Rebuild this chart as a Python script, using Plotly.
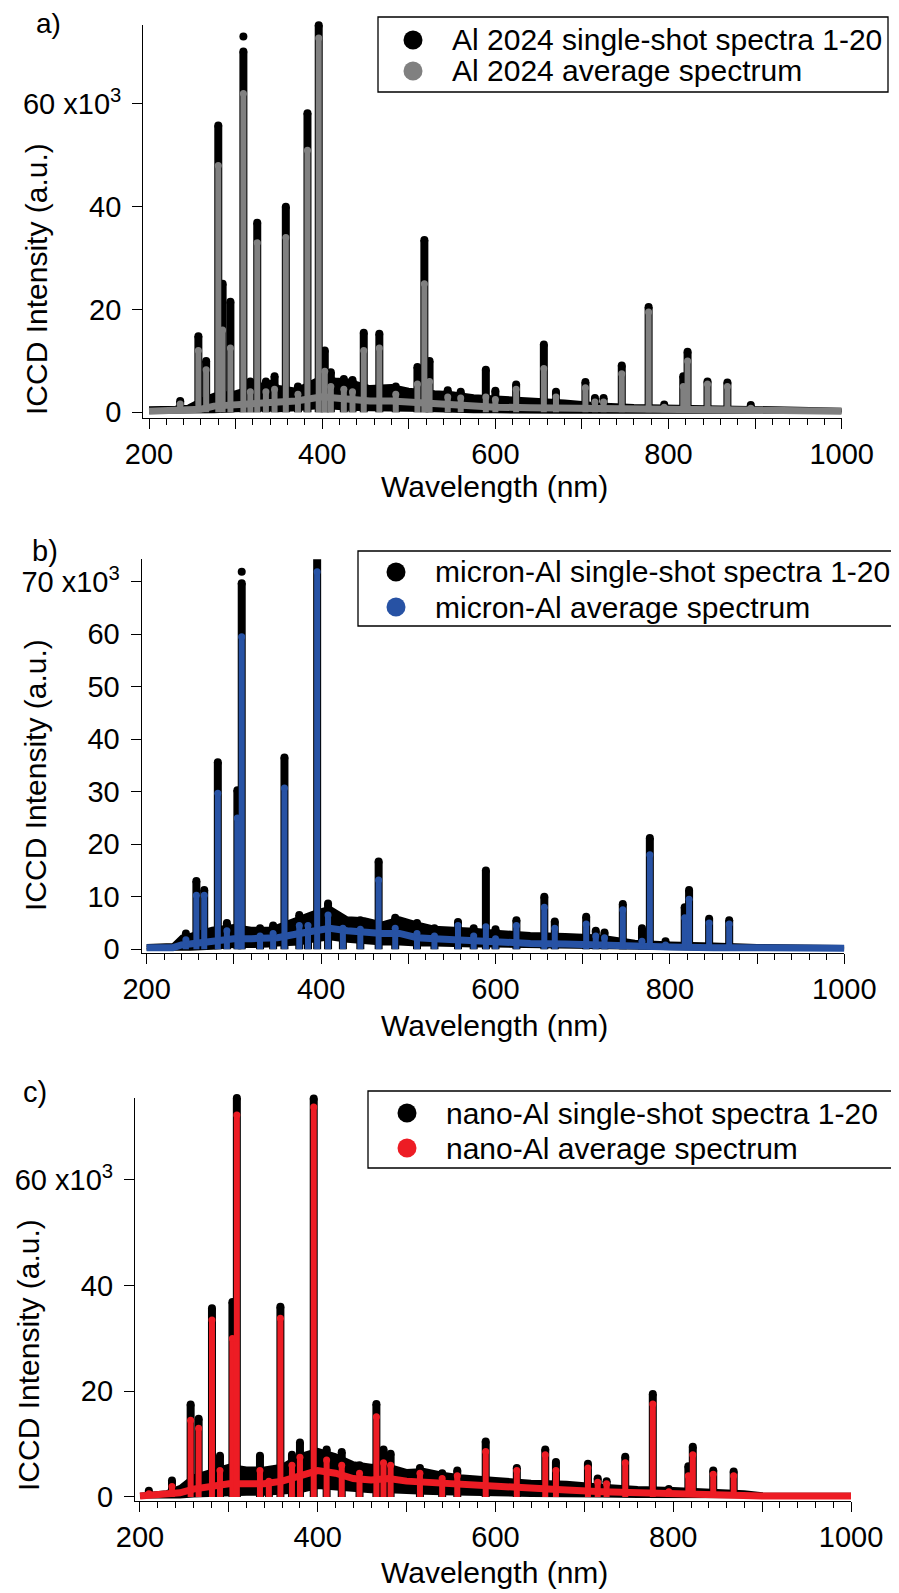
import plotly.graph_objects as go

# The page body keeps an 8 px margin, so the figure starts 8 px in from the window's
# top-left corner; all positions below are given in window pixels and converted.
VIEW_W, VIEW_H = 899, 1593
OFF = 8
W, H = VIEW_W - OFF, VIEW_H - OFF
FONT = "Arial, Liberation Sans, sans-serif"

# ---------------- Panel a: Al 2024 (values in 10^3 counts) ----------------
a_cont_wl = [200, 230, 245, 260, 275, 300, 320, 340, 350, 370, 400, 415, 430, 455, 480, 500, 530, 550,
             575, 600, 640, 680, 720, 760, 800, 850, 900, 950, 1000]
a_cont_max = [0.9, 1.0, 1.2, 2.5, 3.5, 4.0, 5.0, 6.0, 5.0, 4.5, 7.0, 6.5, 6.3, 5.0, 5.2, 4.5, 4.0, 3.8,
              3.2, 3.0, 2.6, 2.2, 1.6, 1.3, 1.2, 1.1, 1.0, 0.8, 0.6]
a_cont_avg = [0.2, 0.3, 0.4, 0.6, 1.2, 1.5, 1.8, 2.2, 2.0, 2.2, 3.0, 2.8, 2.5, 2.2, 2.2, 2.0, 1.5, 1.4,
              1.2, 1.0, 0.9, 0.8, 0.7, 0.6, 0.5, 0.4, 0.3, 0.3, 0.2]
a_cont_min = [0.0, 0.0, 0.0, 0.0, 0.1, 0.3, 0.4, 0.5, 0.3, 0.5, 1.0, 0.8, 0.6, 0.5, 0.5, 0.4, 0.3, 0.2,
              0.1, 0.1, 0.0, 0.0, 0.0, 0.0, 0.0, 0.0, 0.0, 0.0, 0.0]
a_peak_wl = [236, 257, 266, 280, 285, 294, 309, 317, 325, 335, 345, 358, 372, 383, 396, 403, 410, 425,
             435, 448, 466, 485, 510, 518, 524, 545, 560, 589, 600, 624, 656, 670, 704, 715, 725, 746,
             777, 795, 817, 822, 845, 868, 895]
a_peak_max = [2.2, 14.8, 10.0, 55.8, 25.0, 21.5, 70.2, 6.0, 36.9, 6.0, 7.0, 40.0, 5.0, 58.2, 75.3, 12.0,
              7.8, 6.5, 6.3, 15.5, 15.3, 5.0, 8.8, 33.5, 10.0, 4.3, 4.0, 8.3, 4.2, 5.4, 13.2, 4.0, 5.9,
              2.8, 2.8, 9.1, 20.5, 1.5, 7.0, 11.8, 6.0, 5.8, 1.4]
a_peak_avg = [1.6, 12.0, 8.3, 48.0, 16.0, 12.5, 62.0, 4.0, 33.0, 4.0, 4.5, 34.0, 3.5, 51.0, 72.8, 8.0,
              5.0, 4.5, 4.0, 12.0, 12.5, 3.5, 5.5, 25.0, 6.0, 3.0, 2.8, 3.0, 2.5, 4.5, 8.5, 3.0, 4.8,
              2.0, 2.0, 7.5, 19.5, 1.0, 5.0, 10.0, 5.5, 5.0, 0.8]
a_outlier_wl = [309]
a_outlier_val = [73.1]

# ---------------- Panel b: micron-Al ----------------
b_cont_wl = [200, 230, 240, 250, 275, 300, 320, 340, 350, 375, 390, 410, 430, 450, 470, 490, 510, 530,
             550, 575, 600, 640, 680, 720, 760, 800, 850, 900, 1000]
b_cont_max = [0.7, 0.9, 2.5, 2.8, 4.0, 4.5, 4.0, 4.0, 4.5, 6.0, 7.0, 8.0, 6.0, 5.8, 5.0, 6.0, 5.0, 4.2,
              4.0, 3.8, 3.4, 3.0, 2.8, 2.5, 1.5, 1.2, 1.0, 0.7, 0.5]
b_cont_avg = [0.3, 0.3, 0.8, 1.0, 1.5, 2.0, 2.0, 2.0, 2.2, 3.0, 3.5, 4.0, 3.5, 3.2, 3.0, 3.0, 2.2, 2.0,
              1.8, 1.6, 1.2, 1.1, 1.0, 0.7, 0.5, 0.4, 0.3, 0.3, 0.2]
b_cont_min = [0.0, 0.0, 0.0, 0.0, 0.2, 0.5, 0.5, 0.6, 0.8, 1.0, 1.5, 2.0, 1.5, 1.2, 1.0, 1.0, 0.8, 0.8,
              0.7, 0.6, 0.6, 0.5, 0.4, 0.3, 0.1, 0.0, 0.0, 0.0, 0.0]
b_peak_wl = [245, 257, 266, 281.6, 292, 304, 309, 330, 345, 358, 375, 385, 395.5, 408, 425, 445, 466,
             485, 510, 530, 557, 575, 589, 600, 624, 656, 668, 704, 715, 725, 746, 768, 777, 795, 817,
             822, 845, 868]
b_peak_max = [3.0, 13.0, 11.3, 35.6, 5.0, 30.3, 69.7, 4.0, 4.5, 36.5, 6.5, 6.0, 74.8, 8.7, 5.8, 5.5, 16.7,
              6.0, 5.0, 4.0, 5.2, 4.0, 15.0, 3.8, 5.5, 10.0, 5.3, 6.2, 3.5, 3.2, 8.6, 4.0, 21.2, 1.5,
              8.0, 11.3, 5.8, 5.5]
b_peak_avg = [1.8, 10.3, 10.3, 29.7, 3.5, 25.0, 59.5, 2.5, 3.0, 30.7, 4.5, 4.5, 71.9, 6.5, 4.0, 3.8, 13.2,
              4.0, 3.0, 2.5, 4.5, 2.5, 4.3, 2.0, 4.5, 8.0, 4.0, 4.8, 2.5, 2.2, 7.5, 1.5, 18.0, 0.8,
              6.0, 9.5, 5.0, 4.8]
b_outlier_wl = [309]
b_outlier_val = [71.9]

# ---------------- Panel c: nano-Al ----------------
c_cont_wl = [200, 230, 245, 260, 280, 300, 320, 340, 360, 380, 400, 420, 440, 460, 480, 500, 520, 540,
             560, 580, 600, 640, 680, 720, 760, 800, 850, 880, 900, 1000]
c_cont_max = [0.5, 1.0, 2.0, 4.0, 5.0, 6.0, 5.5, 5.5, 6.0, 8.0, 9.0, 8.0, 6.5, 6.0, 6.0, 5.0, 5.2, 4.5,
              4.0, 3.8, 3.5, 3.0, 2.8, 2.2, 1.8, 1.6, 1.3, 1.0, 0.6, 0.5]
c_cont_avg = [0.2, 0.4, 0.8, 1.5, 2.0, 2.5, 2.5, 2.5, 3.0, 4.0, 5.0, 4.5, 3.5, 3.2, 3.5, 3.0, 2.8, 2.5,
              2.2, 2.0, 1.8, 1.5, 1.3, 1.0, 0.8, 0.6, 0.5, 0.4, 0.2, 0.2]
c_cont_min = [0.0, 0.0, 0.0, 0.2, 0.3, 0.5, 0.5, 0.5, 0.7, 1.0, 1.8, 1.5, 1.2, 1.0, 1.0, 0.8, 0.7, 0.6,
              0.5, 0.5, 0.4, 0.3, 0.3, 0.2, 0.1, 0.1, 0.0, 0.0, 0.0, 0.0]
c_peak_wl = [210, 236, 257, 266, 281, 290, 304, 309, 335, 345, 358, 371, 380, 395.5, 410, 427, 447, 466,
             474, 482, 515, 540, 557, 589, 624, 656, 668, 704, 715, 725, 746, 777, 795, 817, 822, 845,
             868]
c_peak_max = [1.2, 3.1, 17.5, 14.8, 35.7, 7.8, 36.9, 75.5, 7.8, 4.5, 36.0, 8.0, 10.3, 75.4, 9.0, 8.5,
              6.0, 17.6, 9.0, 8.2, 5.5, 4.5, 5.0, 10.5, 5.5, 9.0, 6.6, 6.3, 3.5, 3.0, 7.6, 19.5, 1.5,
              5.8, 9.5, 5.0, 4.8]
c_peak_avg = [0.6, 2.0, 14.5, 13.0, 33.5, 5.0, 30.0, 72.3, 5.0, 3.0, 33.8, 6.0, 7.5, 73.8, 7.0, 6.0,
              4.5, 15.2, 6.5, 6.0, 4.5, 3.5, 4.0, 8.6, 5.0, 8.0, 5.0, 5.5, 2.8, 2.5, 6.5, 17.6, 1.0,
              4.0, 8.0, 4.3, 4.0]
c_outlier_wl = []
c_outlier_val = []

# tick labels
x_tickvals = [200, 300, 400, 500, 600, 700, 800, 900, 1000]
x_ticktext = ["200", " ", "400", " ", "600", " ", "800", " ", "1000"]
a_ytickvals = [0, 20, 40, 60]
a_yticktext = ["0", "20", "40", "60 x10<sup>3</sup>"]
b_ytickvals = [0, 10, 20, 30, 40, 50, 60, 70]
b_yticktext = ["0", "10", "20", "30", "40", "50", "60", "70 x10<sup>3</sup>"]
c_ytickvals = [0, 20, 40, 60]
c_yticktext = ["0", "20", "40", "60 x10<sup>3</sup>"]

names = [
    ("Al 2024 single-shot spectra 1-20", "Al 2024 average spectrum"),
    ("micron-Al single-shot spectra 1-20", "micron-Al average spectrum"),
    ("nano-Al single-shot spectra 1-20", "nano-Al average spectrum"),
]
colors = ["#808080", "#2752A4", "#ED1C24"]

fig = go.Figure()


def sticks(wl, h):
    xs, ys = [], []
    for w, v in zip(wl, h):
        xs += [w, w, None]
        ys += [0, v, None]
    return xs, ys


def add_panel(idx, cwl, cmax, cavg, cmin, pwl, pmax, pavg, owl, oval):
    sfx = "" if idx == 0 else str(idx + 1)
    xa, ya = "x" + sfx, "y" + sfx
    col = colors[idx]
    n_single, n_avg = names[idx]
    common = dict(xaxis=xa, yaxis=ya, showlegend=False, hoverinfo="skip")
    # single-shot spectra envelope (black band)
    fig.add_trace(go.Scatter(x=cwl, y=cmin, mode="lines", line=dict(color="black", width=3),
                             name=n_single, **common))
    fig.add_trace(go.Scatter(x=cwl, y=cmax, mode="lines", fill="tonexty", fillcolor="black",
                             line=dict(color="black", width=3), name=n_single, **common))
    sx, sy = sticks(pwl, pmax)
    fig.add_trace(go.Scatter(x=sx, y=sy, mode="lines", line=dict(color="black", width=8),
                             name=n_single, **common))
    fig.add_trace(go.Scatter(x=list(pwl) + list(owl), y=list(pmax) + list(oval), mode="markers",
                             marker=dict(color="black", size=8), cliponaxis=False, name=n_single,
                             **common))
    # average spectrum
    fig.add_trace(go.Scatter(x=cwl, y=cavg, mode="lines", line=dict(color=col, width=7),
                             name=n_avg, **common))
    sx, sy = sticks(pwl, pavg)
    fig.add_trace(go.Scatter(x=sx, y=sy, mode="lines", line=dict(color=col, width=6),
                             name=n_avg, **common))
    fig.add_trace(go.Scatter(x=pwl, y=pavg, mode="markers", marker=dict(color=col, size=7),
                             cliponaxis=False, name=n_avg, **common))


add_panel(0, a_cont_wl, a_cont_max, a_cont_avg, a_cont_min, a_peak_wl, a_peak_max, a_peak_avg,
          a_outlier_wl, a_outlier_val)
add_panel(1, b_cont_wl, b_cont_max, b_cont_avg, b_cont_min, b_peak_wl, b_peak_max, b_peak_avg,
          b_outlier_wl, b_outlier_val)
add_panel(2, c_cont_wl, c_cont_max, c_cont_avg, c_cont_min, c_peak_wl, c_peak_max, c_peak_avg,
          c_outlier_wl, c_outlier_val)

# geometry (window pixels)
panels = [
    dict(x0=143.3, x1=841.7, ytop=25.0, ybot=417.7, xr=[193.4, 1000], yr=[-1.05, 75.35],
         tv=a_ytickvals, tt=a_yticktext,
         box=(378, 17, 888, 92), mk_x=413, rows=(40, 71), txt_x=452),
    dict(x0=141.7, x1=844.3, ytop=559.3, ybot=953.3, xr=[194.3, 1000], yr=[-0.78, 74.27],
         tv=b_ytickvals, tt=b_yticktext,
         box=(358, 551, 893, 626), mk_x=396, rows=(572, 607), txt_x=435),
    dict(x0=135.0, x1=851.0, ytop=1097.7, ybot=1501.0, xr=[194.4, 1000], yr=[-0.76, 75.55],
         tv=c_ytickvals, tt=c_yticktext,
         box=(368, 1091, 892, 1168), mk_x=407, rows=(1113, 1148), txt_x=446),
]


def fx(px):
    return (px - OFF) / W


def fy(py):
    return 1 - (py - OFF) / H


layout = dict(width=W, height=H, margin=dict(l=0, r=0, t=0, b=0, pad=0), paper_bgcolor="white",
              plot_bgcolor="white", font=dict(family=FONT, size=29, color="black"),
              showlegend=False, template="none")
shapes = []
ann = []
for i, p in enumerate(panels):
    sfx = "" if i == 0 else str(i + 1)
    layout["xaxis" + sfx] = dict(
        domain=[fx(p["x0"]), fx(p["x1"])], range=p["xr"], anchor="y" + sfx, automargin=False,
        showline=True, linecolor="black", linewidth=1.3, mirror=False,
        ticks="outside", ticklen=10, tickwidth=1.3, tickcolor="black",
        tickmode="array", tickvals=x_tickvals, ticktext=x_ticktext,
        minor=dict(ticks="outside", ticklen=6, tickwidth=1.3, tickcolor="black", dtick=20, tick0=200,
                   showgrid=False),
        showgrid=False, zeroline=False, tickfont=dict(size=29, family=FONT, color="black"),
    )
    layout["yaxis" + sfx] = dict(
        domain=[fy(p["ybot"]), fy(p["ytop"])], range=p["yr"], anchor="x" + sfx, automargin=False,
        showline=True, linecolor="black", linewidth=1.3,
        ticks="outside", ticklen=10, tickwidth=1.3, tickcolor="black",
        tickmode="array", tickvals=p["tv"], ticktext=p["tt"], ticklabelstandoff=5,
        showgrid=False, zeroline=False, tickfont=dict(size=29, family=FONT, color="black"),
    )
    # legend box (drawn manually for exact placement)
    bx0, by0, bx1, by1 = p["box"]
    shapes.append(dict(type="rect", xref="paper", yref="paper", x0=fx(bx0), x1=fx(bx1),
                       y0=fy(by1), y1=fy(by0), line=dict(color="black", width=1.3),
                       fillcolor="white", layer="above"))
    for (ry, col, label) in [(p["rows"][0], "black", names[i][0]),
                             (p["rows"][1], colors[i], names[i][1])]:
        r = 9.5
        shapes.append(dict(type="circle", xref="paper", yref="paper",
                           x0=fx(p["mk_x"] - r), x1=fx(p["mk_x"] + r),
                           y0=fy(ry + r), y1=fy(ry - r), fillcolor=col,
                           line=dict(width=0), layer="above"))
        ann.append(dict(text=label, x=fx(p["txt_x"]), y=fy(ry), xref="paper", yref="paper",
                        showarrow=False, xanchor="left", yanchor="middle", borderpad=0,
                        borderwidth=0, font=dict(size=30, family=FONT, color="black")))

# panel labels; "a)" sits right at the top edge, so anchor its box to the top
ann.append(dict(text="a)", x=fx(48), y=1.0, xref="paper", yref="paper", showarrow=False,
                xanchor="center", yanchor="top", borderpad=0, borderwidth=0,
                font=dict(size=28, family=FONT)))
for t, x, y in [("b)", 45, 551), ("c)", 35, 1092)]:
    ann.append(dict(text=t, x=fx(x), y=fy(y), xref="paper", yref="paper", showarrow=False,
                    xanchor="center", yanchor="middle", borderpad=0, borderwidth=0,
                    font=dict(size=29, family=FONT)))
for x, y in [(37, 279), (35, 775), (28, 1355)]:
    ann.append(dict(text="ICCD Intensity (a.u.)", x=fx(x), y=fy(y), xref="paper", yref="paper",
                    showarrow=False, textangle=-90, xanchor="center", yanchor="middle",
                    borderpad=0, borderwidth=0, font=dict(size=30, family=FONT)))
for x, y in [(495, 486), (495, 1025), (495, 1572)]:
    ann.append(dict(text="Wavelength (nm)", x=fx(x), y=fy(y), xref="paper", yref="paper",
                    showarrow=False, xanchor="center", yanchor="middle", borderpad=0,
                    borderwidth=0, font=dict(size=30, family=FONT)))
layout["annotations"] = ann
layout["shapes"] = shapes

fig.update_layout(**layout)
fig.write_html("out.html")
